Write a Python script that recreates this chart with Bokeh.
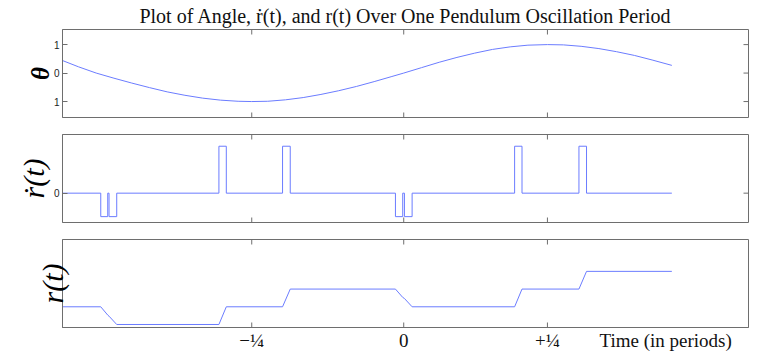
import math
from bokeh.plotting import figure
from bokeh.layouts import column
from bokeh.models import LinearAxis, FixedTicker, Range1d
from bokeh.embed import file_html
from bokeh.resources import INLINE

# ---- data (time in periods) ----
TICK_POS = [-0.257, 0.0, 0.243]
TICK_LABELS = ["\u2212\u00bc", "0", "+\u00bc"]
TIME_LABEL_POS = 0.443
TIME_LABEL = "Time (in periods)"
X_MIN, X_MAX = -0.577, 0.583

theta_t = [-0.577, -0.55, -0.52, -0.49, -0.46, -0.43, -0.40, -0.37, -0.34, -0.31,
           -0.28, -0.257, -0.23, -0.20, -0.17, -0.14, -0.11, -0.08, -0.05, -0.02,
           0.0, 0.03, 0.06, 0.09, 0.12, 0.15, 0.18, 0.21, 0.243, 0.27,
           0.30, 0.33, 0.36, 0.39, 0.42, 0.4534]
theta_v = [0.44, 0.22, 0.0, -0.18, -0.35, -0.51, -0.66, -0.78, -0.88, -0.95,
           -0.99, -1.0, -0.99, -0.94, -0.86, -0.75, -0.62, -0.47, -0.30, -0.12,
           0.0, 0.19, 0.38, 0.55, 0.70, 0.83, 0.92, 0.98, 1.0, 0.99,
           0.94, 0.86, 0.75, 0.62, 0.46, 0.27]
THETA_TICKS = [-1, 0, 1]
THETA_LABELS = ["1", "0", "1"]

rdot_t = [-0.577, -0.5123, -0.5005, -0.4983, -0.4853, -0.3125, -0.3000, -0.2049, -0.1919,
          -0.0140, -0.0017, 0.0012, 0.0142, 0.1875, 0.2000, 0.2963, 0.3091, 0.4534]
rdot_v = [0, -1, 0, -1, 0, 2, 0, 2, 0, -1, 0, -1, 0, 2, 0, 2, 0, 0]
RDOT_TICKS = [0]
RDOT_LABELS = ["0"]

r_t = [-0.577, -0.5123, -0.5005, -0.4983, -0.4853, -0.3125, -0.3000, -0.2049, -0.1919,
       -0.0140, -0.0017, 0.0012, 0.0142, 0.1875, 0.2000, 0.2963, 0.3091, 0.4534]
r_v = [1, 1, 0.53, 0.47, 0, 0, 1, 1, 2, 2, 1.53, 1.47, 1, 1, 2, 2, 3, 3]

LINE = "#6b7cff"
FRAME = "#6e6e6e"
SERIF = "Liberation Serif"


def make_fig(yr, top, bottom):
    p = figure(frame_width=686, frame_height=88, min_border_left=62, min_border_right=10,
               min_border_top=top, min_border_bottom=bottom,
               x_range=Range1d(X_MIN, X_MAX), y_range=Range1d(*yr),
               x_axis_type=None, y_axis_type=None,
               output_backend="svg", toolbar_location=None)
    p.outline_line_color = FRAME
    p.outline_line_width = 1
    p.background_fill_color = "white"
    p.border_fill_color = "white"
    return p


def tick_marks(p, side, ticks, length=5):
    """Inward tick marks on a side of the frame (mirrored ticks)."""
    n = len(ticks)
    if side == "above":
        p.ray(x=ticks, y=[p.y_range.end] * n, length=length, length_units="screen",
              angle=-math.pi / 2, line_color=FRAME, line_width=1)
    elif side == "below":
        p.ray(x=ticks, y=[p.y_range.start] * n, length=length, length_units="screen",
              angle=math.pi / 2, line_color=FRAME, line_width=1)
    elif side == "right":
        p.ray(x=[p.x_range.end] * n, y=ticks, length=length, length_units="screen",
              angle=math.pi, line_color=FRAME, line_width=1)


def left_axis(p, ticks, labels, axis_label, size, style, standoff):
    ax = LinearAxis(ticker=FixedTicker(ticks=ticks))
    ax.major_tick_in = 5
    ax.major_tick_out = 0
    ax.minor_tick_in = 0
    ax.minor_tick_out = 0
    ax.major_tick_line_color = FRAME
    ax.axis_line_color = FRAME
    ax.major_label_text_font = "Liberation Sans"
    ax.major_label_text_font_size = "10px"
    ax.major_label_text_color = "#222222"
    ax.major_label_standoff = 3
    ax.major_label_overrides = {t: l for t, l in zip(ticks, labels)}
    ax.axis_label = axis_label
    ax.axis_label_text_font = SERIF
    ax.axis_label_text_font_size = size
    ax.axis_label_text_font_style = style
    ax.axis_label_text_color = "black"
    ax.axis_label_standoff = standoff
    p.add_layout(ax, "left")
    return ax


# ---- panel 1: theta ----
p1 = make_fig((-1.56, 1.53), 28, 9)
p1.title.text = "Plot of Angle, \u1e59(t), and r(t) Over One Pendulum Oscillation Period"
p1.title.text_font = SERIF
p1.title.text_font_size = "20px"
p1.title.text_font_style = "normal"
p1.title.text_color = "#111111"
p1.title.align = "center"
p1.title.standoff = 5
p1.title.offset = 0
p1.line(theta_t, theta_v, line_color=LINE, line_width=1)
left_axis(p1, THETA_TICKS, THETA_LABELS, "\u03b8", "25px", "bold italic", -3)
tick_marks(p1, "right", THETA_TICKS)
tick_marks(p1, "above", TICK_POS)
tick_marks(p1, "below", TICK_POS)

# ---- panel 2: r-dot ----
p2 = make_fig((-1.25, 2.5), 8, 9)
p2.step(rdot_t, rdot_v, mode="after", line_color=LINE, line_width=1)
left_axis(p2, RDOT_TICKS, RDOT_LABELS, "\u1e59(t)", "30px", "italic", 1)
tick_marks(p2, "right", RDOT_TICKS)
tick_marks(p2, "above", TICK_POS)
tick_marks(p2, "below", TICK_POS)

# ---- panel 3: r ----
p3 = make_fig((-0.17, 4.8), 8, 25)
p3.line(r_t, r_v, line_color=LINE, line_width=1)
left_axis(p3, [], [], "r(t)", "30px", "italic", -6)
tick_marks(p3, "above", TICK_POS)
tick_marks(p3, "below", TICK_POS)

bx = LinearAxis(ticker=FixedTicker(ticks=TICK_POS + [TIME_LABEL_POS]))
bx.major_tick_in = 0
bx.major_tick_out = 0
bx.minor_tick_in = 0
bx.minor_tick_out = 0
bx.axis_line_color = FRAME
bx.major_label_standoff = 2
bx.major_label_text_font = SERIF
bx.major_label_text_font_size = "19px"
bx.major_label_text_color = "#111111"
bx.major_label_overrides = {t: l for t, l in zip(TICK_POS + [TIME_LABEL_POS],
                                                  TICK_LABELS + [TIME_LABEL])}
p3.add_layout(bx, "below")

layout = column(p1, p2, p3, spacing=0)
open("out.html", "w").write(file_html(layout, INLINE))
